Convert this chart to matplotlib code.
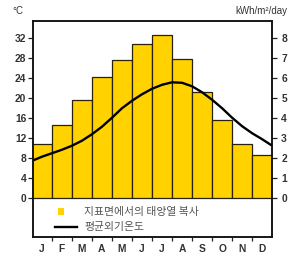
import matplotlib
matplotlib.use("Agg")
import matplotlib.pyplot as plt
from matplotlib.lines import Line2D
from matplotlib.patches import Rectangle
from matplotlib.legend_handler import HandlerPatch
import numpy as np

months = ["J", "F", "M", "A", "M", "J", "J", "A", "S", "O", "N", "D"]
# solar radiation on the ground surface, kWh/m2/day
solar = [2.73, 3.68, 4.93, 6.08, 6.9, 7.73, 8.17, 6.98, 5.3, 3.93, 2.73, 2.17]
# mean outdoor temperature, deg C, read at month centres
temp = [8.3, 9.7, 11.5, 14.3, 18.0, 20.8, 22.7, 23.1, 21.2, 18.0, 14.4, 11.8]
# same curve read at the month boundaries (J/F ... N/D)
temp_bounds = [9.0, 10.5, 12.8, 16.1, 19.5, 21.9, 23.2, 22.4, 19.7, 16.1, 13.0]
# where the curve meets the left and right frame
temp_start = 7.6
temp_end = 10.6

label_solar = "지표면에서의 태양열 복사"
label_temp = "평균외기온도"

tick_font = dict(family="Liberation Sans", weight="bold", size=7.4, color="#333333")
kr_font = ["Noto Sans CJK KR", "DejaVu Sans"]
yellow = "#FFD200"

fig = plt.figure(figsize=(3.0, 2.65), dpi=100)
ax = fig.add_axes([33.3 / 300, 1 - 237.3 / 265, (271.5 - 33.3) / 300, (237.3 - 20.5) / 265])
ax2 = ax.twinx()

xmin, xmax = -0.42, 11.46
tmin, tmax = -7.8, 35.56

x = np.arange(len(months))
ax.bar(x, solar, width=1.0, color=yellow, edgecolor="#2a2010", linewidth=0.9, zorder=2)
ax.set_xlim(xmin, xmax)
ax.set_ylim(tmin / 4, tmax / 4)
ax.yaxis.tick_right()
ax.yaxis.set_label_position("right")
ax.set_yticks(range(0, 9))
ax.tick_params(axis="y", direction="out", length=3.5, width=0.9, pad=3.5, colors="#222222")
for lab in ax.get_yticklabels():
    lab.set(**tick_font)

ax2.yaxis.tick_left()
ax2.set_ylim(tmin, tmax)
ax2.set_yticks(range(0, 33, 4))
ax2.tick_params(axis="y", direction="out", length=3.5, width=0.9, pad=1.5, colors="#222222")
for lab in ax2.get_yticklabels():
    lab.set(**tick_font)

# merge centre and boundary readings into one curve
tx = [xmin]
ty = [temp_start]
for i in range(len(months)):
    tx.append(x[i])
    ty.append(temp[i])
    if i < len(temp_bounds):
        tx.append(x[i] + 0.5)
        ty.append(temp_bounds[i])
tx.append(xmax)
ty.append(temp_end)
ax2.plot(tx, ty, color="black", lw=1.7, solid_capstyle="butt", solid_joinstyle="round", zorder=3)

# months: labels at centres, tick marks at boundaries
ax.set_xticks(x)
ax.set_xticklabels(months)
ax.set_xticks(x[:-1] + 0.5, minor=True)
ax.tick_params(axis="x", which="major", length=0, pad=4.5)
ax.tick_params(axis="x", which="minor", direction="out", length=3, width=0.9, color="#222222")
for lab in ax.get_xticklabels():
    lab.set(**tick_font)

for a in (ax, ax2):
    for s in a.spines.values():
        s.set_linewidth(1.1)
        s.set_color("#111111")

fig.text(18 / 300, 1 - 11.5 / 265, "°C", ha="center", va="center",
         family="Liberation Sans", size=7, color="#333333")
fig.text(287 / 300, 1 - 11.5 / 265, "kWh/m²/day", ha="right", va="center",
         family="Liberation Sans", size=7, color="#333333")


def small_square(legend, orig_handle, xdescent, ydescent, width, height, fontsize):
    s = 5.0
    return Rectangle((-xdescent + 1.5, -ydescent + (height - s) / 2), s, s)


handles = [Rectangle((0, 0), 1, 1, color=yellow, lw=0),
           Line2D([], [], color="black", lw=1.7)]
ax.legend(handles, [label_solar, label_temp], loc="upper left",
          bbox_to_anchor=(50 / 300, 1 - 202 / 265), bbox_transform=fig.transFigure,
          frameon=False, borderpad=0, handlelength=2.0, handletextpad=0.65,
          labelspacing=0.45, prop=dict(family=kr_font, size=7.8), labelcolor="#555555",
          handler_map={Rectangle: HandlerPatch(patch_func=small_square)})

fig.savefig("out.png", dpi=100, facecolor="white")
